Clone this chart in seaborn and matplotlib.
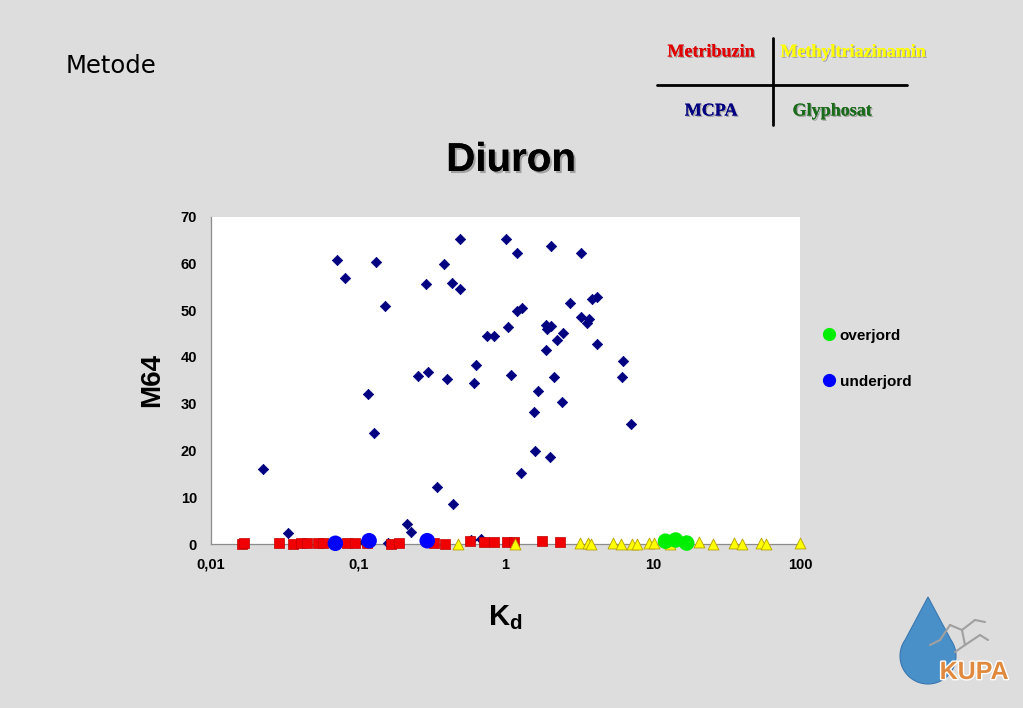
import numpy as np
import pandas as pd
import matplotlib
matplotlib.use("Agg")
import matplotlib.pyplot as plt
import matplotlib.patheffects as pe
from matplotlib.lines import Line2D
from matplotlib.patches import PathPatch
from matplotlib.path import Path
import seaborn as sns

# ---------------- data ----------------
mcpa_x = [0.0224, 0.0331, 0.0722, 0.0817, 0.117, 0.133, 0.127, 0.151, 0.215, 0.227,
          0.256, 0.287, 0.298, 0.34, 0.38, 0.398, 0.43, 0.44, 0.493, 0.493,
          0.61, 0.626, 0.75, 0.84, 1.0, 1.04, 1.09, 1.2, 1.2, 1.27,
          1.3, 1.55, 1.58, 1.67, 1.87, 1.89, 1.92, 2.0, 2.03, 2.05,
          2.13, 2.24, 2.41, 2.46, 2.76, 3.25, 3.25, 3.6, 3.68, 3.88,
          4.15, 4.17, 6.2, 6.3, 7.15, 0.11, 0.16, 0.58, 0.68]
mcpa_y = [16.1, 2.3, 60.8, 56.9, 32.1, 60.2, 23.8, 50.8, 4.3, 2.6,
          35.9, 55.6, 36.7, 12.2, 59.8, 35.2, 55.8, 8.5, 65.2, 54.5,
          34.4, 38.3, 44.4, 44.4, 65.1, 46.4, 36.1, 62.1, 49.7, 15.1,
          50.4, 28.2, 19.8, 32.6, 41.5, 46.9, 45.9, 18.6, 46.5, 63.6,
          35.6, 43.5, 30.4, 45.2, 51.5, 62.3, 48.6, 47.3, 48.0, 52.4,
          42.8, 52.9, 35.6, 39.1, 25.7, 0.5, 0.2, 0.85, 1.0]

metri_x = [0.0162, 0.0168, 0.029, 0.036, 0.0407, 0.045, 0.0535, 0.058, 0.084, 0.095,
           0.115, 0.166, 0.19, 0.328, 0.39, 0.574, 0.72, 0.84, 1.02, 1.14, 1.76, 2.36]
metri_y = [0.1, 0.3, 0.2, 0.1, 0.2, 0.3, 0.2, 0.2, 0.2, 0.3,
           0.2, 0.1, 0.2, 0.3, 0.0, 0.6, 0.4, 0.4, 0.4, 0.5, 0.6, 0.5]

mtz_x = [0.475, 1.157, 3.2, 3.63, 3.82, 5.35, 6.12, 7.24, 7.84, 9.42,
         10.2, 13.0, 20.5, 25.8, 35.6, 40.4, 54.5, 58.9, 99.5]
mtz_y = [0.1, 0.1, 0.2, 0.2, 0.1, 0.3, 0.0, 0.1, 0.1, 0.3,
         0.2, 0.1, 0.4, 0.0, 0.3, 0.1, 0.2, 0.0, 0.2]

over_x = [12.2, 14.3, 17.0]
over_y = [0.6, 0.85, 0.2]
under_x = [0.0699, 0.1185, 0.294]
under_y = [0.15, 0.7, 0.7]

xticks = [0.01, 0.1, 1, 10, 100]
xticklabels = ["0,01", "0,1", "1", "10", "100"]
yticks = [0, 10, 20, 30, 40, 50, 60, 70]

# ---------------- style ----------------
sns.set_style("white")
plt.rcParams["font.family"] = ["Liberation Sans", "DejaVu Sans"]
plt.rcParams["text.color"] = "black"
plt.rcParams["axes.labelcolor"] = "black"
plt.rcParams["xtick.color"] = "black"
plt.rcParams["ytick.color"] = "black"
plt.rcParams["mathtext.fontset"] = "custom"
plt.rcParams["mathtext.rm"] = "Liberation Sans:bold"
plt.rcParams["mathtext.bf"] = "Liberation Sans:bold"
plt.rcParams["mathtext.it"] = "Liberation Sans:bold"

BG = "#DDDDDD"
fig = plt.figure(figsize=(10.23, 7.08), dpi=100, facecolor=BG)
ax = fig.add_axes([211 / 1023, 1 - 544 / 708, 589 / 1023, 327.5 / 708])
ax.set_facecolor("white")

sns.scatterplot(x=mcpa_x, y=mcpa_y, ax=ax, marker="D", color="#000080", s=28,
                edgecolor="#000080", linewidth=0.5, clip_on=False, zorder=3)
sns.scatterplot(x=metri_x, y=metri_y, ax=ax, marker="s", color="#F00000", s=52,
                edgecolor="#C00000", linewidth=0.5, clip_on=False, zorder=4)
sns.scatterplot(x=mtz_x, y=mtz_y, ax=ax, marker="^", color="#FFFF00", s=62,
                edgecolor="#B8A000", linewidth=0.6, clip_on=False, zorder=4)
sns.scatterplot(x=over_x, y=over_y, ax=ax, marker="o", color="#00EE00", s=125,
                edgecolor="none", clip_on=False, zorder=5)
sns.scatterplot(x=under_x, y=under_y, ax=ax, marker="o", color="#0000FF", s=125,
                edgecolor="none", clip_on=False, zorder=5)

ax.set_xscale("log")
ax.set_xlim(0.01, 100)
ax.set_ylim(0, 70)
ax.set_xticks(xticks)
ax.set_xticklabels(xticklabels)
ax.set_yticks(yticks)
ax.minorticks_off()
ax.tick_params(axis="both", which="major", direction="out", length=4, width=0.8,
               color="#808080", labelcolor="black", labelsize=10.5, pad=6)
for lab in ax.get_xticklabels() + ax.get_yticklabels():
    lab.set_fontweight("bold")
for s in ["top", "right"]:
    ax.spines[s].set_visible(False)
for s in ["left", "bottom"]:
    ax.spines[s].set_color("#8C8C8C")
    ax.spines[s].set_linewidth(0.9)
ax.set_xlabel("")
ax.set_ylabel("")

# axis labels
fig.text(152 / 1023, 1 - 380 / 708, "M64", rotation=90, ha="center", va="center",
         fontsize=20, fontweight="bold", color="black")
fig.text(505 / 1023, 1 - 618 / 708, r"$\mathrm{K_d}$", ha="center", va="center",
         fontsize=21, color="black")

# title
shadow = [pe.withSimplePatchShadow(offset=(1.5, -1.5), shadow_rgbFace="#888888", alpha=0.7),
          pe.Normal()]
fig.text(511 / 1023, 1 - 160 / 708, "Diuron", ha="center", va="center",
         fontsize=29, fontweight="bold", color="black", path_effects=shadow)
fig.text(66 / 1023, 1 - 66 / 708, "Metode", ha="left", va="center",
         fontsize=17.5, family="DejaVu Sans", color="black")

# header table
tshadow = [pe.withSimplePatchShadow(offset=(1, -1), shadow_rgbFace="#666666", alpha=0.5),
           pe.Normal()]
fig.add_artist(Line2D([773 / 1023, 773 / 1023], [1 - 38 / 708, 1 - 125 / 708],
                      color="black", lw=2))
fig.add_artist(Line2D([657 / 1023, 907 / 1023], [1 - 85 / 708, 1 - 85 / 708],
                      color="black", lw=2))
hdr = dict(ha="center", va="center", fontsize=13, fontweight="bold",
           family="Liberation Serif", path_effects=tshadow)
fig.text(711 / 1023, 1 - 52 / 708, "Metribuzin", color="#E00000", **hdr)
fig.text(853 / 1023, 1 - 52 / 708, "Methyltriazinamin", color="#FFFF00", **hdr)
fig.text(711 / 1023, 1 - 111 / 708, "MCPA", color="#000080", **hdr)
fig.text(832 / 1023, 1 - 111 / 708, "Glyphosat", color="#1A6B1A", **hdr)

# legend
handles = [Line2D([], [], marker="o", ls="none", color="#00EE00", markersize=8.5),
           Line2D([], [], marker="o", ls="none", color="#0000FF", markersize=8.5)]
leg = fig.legend(handles, ["overjord", "underjord"], loc="upper left",
                 bbox_to_anchor=(806 / 1023, 1 - 315 / 708), frameon=False,
                 labelspacing=2.1, handletextpad=0.1, handlelength=1.2,
                 prop={"weight": "bold", "size": 11})
for txt in leg.get_texts():
    txt.set_color("black")

# logo (drop + KUPA)
cx, cy, r = 928, 656, 28
verts = [(928, 597)]
arc = np.linspace(np.deg2rad(-35), np.deg2rad(215), 80)
for a in arc[::-1]:
    verts.append((cx + r * np.cos(-a + np.pi), cy + r * np.sin(-a + np.pi)))
verts.append((928, 597))
verts = [(x / 1023, 1 - y / 708) for x, y in verts]
drop = PathPatch(Path(verts, closed=True), transform=fig.transFigure,
                 facecolor="#4A90C8", edgecolor="#3A78B0", lw=0.8)
fig.add_artist(drop)
for (x1, y1, x2, y2) in [(940, 640, 950, 625), (950, 625, 962, 630), (962, 630, 965, 645),
                         (965, 645, 955, 652), (965, 645, 980, 635), (962, 630, 975, 620),
                         (975, 620, 985, 622), (980, 635, 988, 640), (940, 640, 930, 645)]:
    fig.add_artist(Line2D([x1 / 1023, x2 / 1023], [1 - y1 / 708, 1 - y2 / 708],
                          color="#A0A0A0", lw=1.5))
fig.text(974 / 1023, 1 - 672 / 708, "KUPA", ha="center", va="center", fontsize=18,
         fontweight="bold", color="#E08A40",
         path_effects=[pe.withStroke(linewidth=2, foreground="white")])

fig.savefig("out.png", dpi=100, facecolor=BG)
